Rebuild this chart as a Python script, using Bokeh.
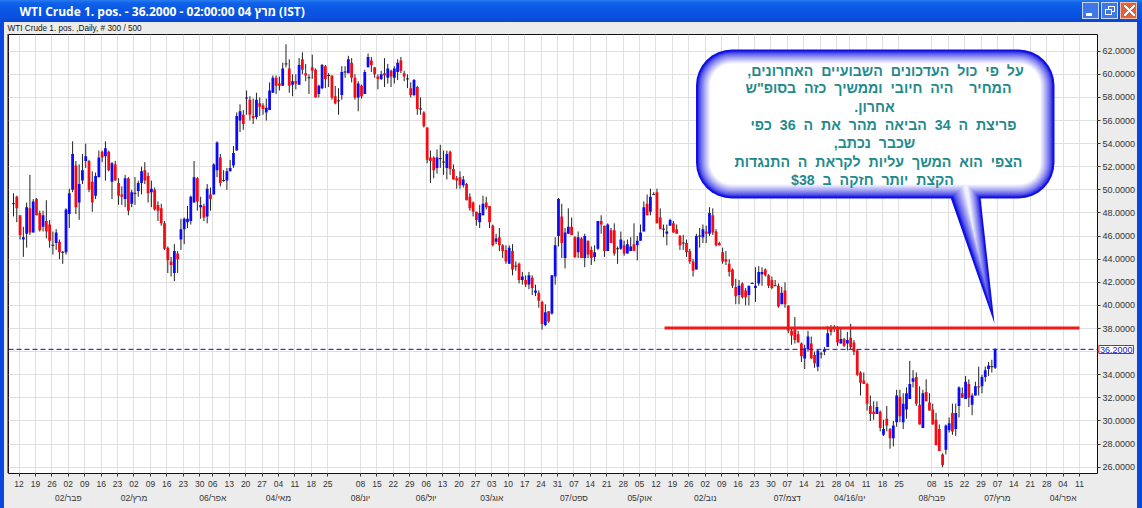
import math
from bokeh.plotting import figure
from bokeh.models import (Label, Span, LinearAxis, FixedTicker, Range1d, NumeralTickFormatter, Grid,
                          InlineStyleSheet)
from bokeh.embed import file_html
from bokeh.resources import INLINE

highs = [
 49.7,49.5,47.8,46.8,48.9,51.3,49.2,49.3,48.2,48.2, 49.1,47.4,46.4,46.6,45.7,44.7,48.4,50.1,54.2,52.5,
 52.2,53.1,54.0,52.6,51.6,51.5,53.4,53.4,54.2,53.4, 52.4,52.5,51.0,50.3,51.3,51.1,50.0,51.1,50.8,52.0,
 52.4,51.5,50.8,50.2,49.0,48.8,47.3,45.1,44.2,45.3, 44.7,47.5,47.6,48.6,49.5,52.5,51.1,49.4,48.8,50.5,
 50.2,52.3,54.2,53.1,51.7,51.9,52.6,53.8,56.7,57.4, 56.9,58.6,58.1,57.9,58.4,58.0,57.5,57.9,59.3,59.9,
 59.9,59.8,61.0,62.6,61.3,60.0,60.0,61.4,61.9,60.9, 60.0,61.7,60.5,59.1,60.9,60.8,60.1,59.9,59.0,58.8,
 60.7,60.7,61.6,61.4,60.0,59.4,59.1,60.4,61.8,61.5, 60.6,60.0,60.3,61.4,60.9,60.4,60.7,61.3,61.5,60.3,
 60.0,59.3,59.6,59.0,58.0,56.8,55.4,53.4,52.9,53.5, 53.9,53.4,53.4,53.4,52.2,51.2,51.6,51.2,50.6,49.7,
 49.0,48.1,48.7,49.5,49.4,48.6,47.0,46.2,46.7,45.3, 45.2,45.2,45.3,43.8,43.7,42.9,42.6,42.9,42.6,41.8,
 41.3,40.4,40.1,39.5,42.6,45.9,49.3,48.8,46.7,48.4, 47.6,46.0,46.4,45.9,46.2,45.6,45.1,45.2,47.3,47.8,
 46.9,47.1,46.7,47.1,45.1,46.4,45.6,45.7,45.9,47.1, 46.0,47.0,49.0,49.6,50.1,49.8,50.1,48.4,47.0,47.0,
 47.5,47.3,47.0,46.1,46.1,45.7,44.9,44.0,46.2,46.7, 47.0,46.9,48.5,48.4,46.6,45.5,45.0,44.7,44.0,43.2,
 42.3,42.2,42.0,41.5,41.7,42.0,43.3,43.4,43.3,43.2, 42.7,42.5,42.2,41.9,41.6,42.0,40.0,38.1,39.0,37.8,
 36.8,36.6,37.8,37.3,36.0,36.2,36.0,36.4,38.2,38.3, 38.3,38.2,38.1,37.2,37.7,38.4,37.0,36.2,34.3,34.2,
 33.3,32.2,31.7,31.7,30.9,30.1,31.3,29.4,30.0,32.7, 32.7,32.4,32.9,35.2,34.4,34.2,33.0,32.7,33.6,32.4,
 31.5,30.7,29.7,27.2,29.7,30.3,31.5,31.5,33.0,32.9, 33.9,33.6,32.4,33.4,34.7,34.0,34.7,35.1,35.3,36.3,
]
lows = [
 47.7,47.2,45.7,44.2,45.0,46.1,46.3,47.8,46.4,46.4, 45.8,45.0,44.4,44.8,44.0,43.6,44.4,46.7,49.8,47.9,
 47.4,50.5,51.9,49.8,48.1,49.2,51.1,52.4,50.8,51.6, 49.2,50.8,48.7,48.7,48.5,47.8,48.5,48.7,49.4,49.6,
 50.5,48.9,48.5,48.2,47.3,46.9,44.8,42.8,42.5,42.1, 42.8,44.8,45.3,46.7,47.0,48.9,48.2,47.5,47.3,47.1,
 48.2,49.6,51.1,50.3,50.7,50.0,51.6,51.9,53.4,55.0, 55.2,56.5,56.0,55.7,56.1,56.4,56.5,56.0,56.9,58.4,
 58.3,58.6,59.0,60.6,58.4,58.1,58.7,59.1,60.0,59.4, 58.3,59.6,58.0,58.0,58.7,58.8,58.9,57.8,57.4,56.5,
 57.8,59.7,60.1,59.3,57.8,56.8,57.9,58.3,60.6,60.2, 59.7,58.7,59.5,58.9,59.2,58.9,59.2,59.5,60.1,59.4,
 58.8,58.0,58.1,56.5,56.5,55.4,52.3,50.6,51.0,51.4, 51.9,51.3,50.9,51.3,50.9,50.1,50.1,50.2,49.1,48.2,
 47.7,46.9,46.7,47.8,48.3,46.7,45.1,45.3,44.7,44.1, 43.6,43.6,42.6,43.0,41.9,41.8,41.6,41.4,40.9,40.8,
 39.8,37.9,38.2,38.5,39.2,41.8,45.1,44.1,43.2,46.2, 46.1,44.1,44.1,44.1,43.3,44.1,43.5,43.8,44.8,46.2,
 44.2,44.7,45.4,44.3,43.6,44.8,44.3,44.5,44.7,44.7, 43.9,45.6,46.4,47.8,47.8,49.6,47.1,46.6,45.9,45.2,
 46.9,46.3,46.2,44.8,44.8,44.2,43.6,42.5,43.1,45.0, 45.4,45.4,46.0,46.1,45.1,45.2,43.6,43.5,42.5,41.5,
 40.1,40.1,40.6,40.0,40.0,41.9,40.3,41.7,41.7,42.5, 41.5,41.4,41.7,39.8,40.1,39.8,37.6,36.6,36.7,36.8,
 35.1,34.5,36.0,35.4,34.6,34.3,35.4,35.7,36.4,37.4, 37.7,36.5,36.7,36.4,36.1,36.2,35.7,33.9,32.2,33.2,
 30.9,30.0,30.1,30.6,29.1,28.7,29.1,27.6,27.8,29.5, 29.9,29.3,30.2,31.9,32.9,31.3,29.7,29.4,31.7,30.9,
 29.7,27.9,27.4,26.0,27.1,29.0,28.8,28.7,30.3,32.0, 31.9,31.2,30.5,32.2,32.2,32.4,33.4,33.9,34.2,34.5,
]
opens = [
 48.8,49.4,47.8,45.7,46.2,48.4,46.3,49.2,48.0,46.8, 47.3,47.0,45.2,45.4,45.5,44.6,44.6,47.9,50.0,52.1,
 48.9,50.8,52.5,52.5,50.7,49.5,51.1,53.3,52.9,53.3, 50.7,52.2,50.6,49.6,49.2,51.0,48.8,49.7,49.9,50.6,
 51.7,51.2,49.8,50.0,48.7,48.4,47.1,45.0,43.8,42.8, 44.5,45.7,46.6,47.2,47.3,48.9,51.0,48.5,48.6,47.7,
 49.6,49.6,51.7,52.8,50.8,50.8,51.6,52.1,53.4,56.0, 56.5,57.9,57.8,56.4,56.3,57.5,57.3,56.7,56.9,58.4,
 59.7,59.2,59.0,60.9,60.5,59.1,59.4,59.1,61.3,60.1, 59.7,60.6,60.4,58.3,58.8,60.7,59.9,59.9,58.1,57.7,
 58.2,60.2,60.1,61.0,59.7,58.0,59.0,58.3,60.6,61.2, 60.6,59.8,59.6,60.1,59.7,60.3,59.7,60.2,61.2,60.1,
 59.6,58.8,58.2,58.9,57.0,56.7,55.4,52.8,52.8,51.9, 52.7,52.4,51.9,53.3,51.8,51.0,51.1,50.4,50.5,49.4,
 48.9,48.1,47.2,47.8,48.9,48.6,46.9,45.5,45.9,45.2, 44.8,43.6,44.7,43.4,43.6,42.2,42.2,41.8,42.4,41.1,
 41.1,40.3,38.3,39.5,39.3,42.5,46.0,47.7,44.1,46.2, 46.8,45.9,44.6,45.8,44.1,45.6,44.8,44.2,44.9,47.3,
 46.9,44.7,46.5,46.5,44.9,44.9,45.2,44.5,44.7,45.3, 45.2,45.6,46.4,48.8,48.1,49.6,49.8,47.6,46.6,46.2,
 46.9,47.1,46.6,46.0,45.4,45.4,44.7,43.8,43.1,46.0, 45.9,46.4,46.2,47.8,46.4,45.4,44.6,44.0,43.6,43.1,
 41.6,40.9,41.9,41.3,40.9,41.9,41.5,41.9,42.7,43.1, 42.6,42.2,41.7,41.7,40.1,41.3,40.0,37.8,38.1,37.5,
 36.7,35.4,36.2,36.7,35.7,34.7,35.8,36.0,36.4,38.1, 38.1,38.1,36.7,37.1,36.7,37.2,36.8,36.1,34.2,33.5,
 33.2,31.3,30.8,30.6,30.8,28.8,30.2,29.3,28.5,29.9, 32.1,29.9,31.0,31.9,33.4,33.8,31.4,29.4,32.5,31.6,
 31.0,30.1,29.3,27.1,27.5,29.2,30.7,29.3,31.3,32.4, 31.9,33.2,31.4,32.2,33.0,33.0,33.8,34.5,34.7,34.6,
]
closes = [
 48.8,48.4,46.1,45.9,48.5,46.3,49.0,47.8,46.5,47.8, 46.4,45.6,45.2,46.3,44.6,44.6,48.3,49.7,53.1,48.5,
 50.5,51.7,52.9,50.0,48.9,51.2,52.8,52.8,53.6,51.7, 52.3,50.8,49.5,49.4,51.0,48.2,49.8,49.7,50.6,51.6,
 50.8,49.7,50.1,48.3,48.2,47.1,44.9,43.9,43.5,44.7, 44.0,46.6,47.5,47.5,49.4,51.1,49.0,48.7,47.6,50.1,
 49.2,52.2,54.1,50.6,50.8,51.6,51.9,53.2,56.4,56.8, 55.7,58.0,56.5,56.2,57.8,57.2,57.0,57.1,58.6,59.7,
 59.0,59.0,60.5,60.9,59.0,59.4,59.2,60.8,60.4,59.9, 59.7,60.3,58.0,59.0,60.8,59.6,59.9,58.0,57.5,57.7,
 60.2,60.2,61.3,59.7,58.0,59.2,58.1,60.2,61.5,60.8, 60.0,59.6,60.0,59.9,60.5,59.8,60.5,61.0,60.3,59.8,
 59.6,58.2,59.5,57.0,57.0,55.5,52.6,52.5,51.7,52.8, 52.7,52.4,53.1,51.8,50.9,50.8,50.4,50.9,49.1,48.4,
 48.1,47.4,48.0,48.8,48.5,47.2,45.2,45.8,45.2,44.7, 43.8,45.0,43.1,43.4,42.2,42.5,41.8,42.6,41.5,41.3,
 40.4,38.4,39.4,38.6,42.6,45.2,49.2,45.4,46.3,46.8, 46.1,44.2,45.9,44.1,46.0,44.4,44.1,44.6,47.3,47.0,
 44.7,47.0,45.4,44.5,44.9,45.7,44.5,45.3,45.1,44.7, 45.6,46.3,48.5,47.8,49.4,49.6,47.1,46.6,46.6,46.4,
 47.4,46.3,46.2,45.2,45.4,44.6,43.8,43.0,46.0,46.0, 46.6,46.2,48.0,46.3,45.2,45.2,43.8,43.8,42.9,41.7,
 40.8,41.7,40.7,40.7,41.7,41.9,41.7,42.9,42.9,42.6, 41.7,41.5,41.7,39.9,41.1,40.1,37.8,37.4,37.0,36.8,
 35.6,36.3,37.3,35.4,35.0,36.1,35.8,36.2,37.6,37.7, 38.1,36.8,37.1,36.5,37.0,36.4,36.0,34.0,33.3,33.2,
 31.5,30.6,30.6,31.2,29.4,29.3,29.6,28.5,29.6,32.2, 30.4,31.5,32.4,33.2,33.7,31.5,29.7,32.4,31.7,30.9,
 29.7,27.9,27.4,26.2,29.6,29.8,29.1,30.7,32.9,32.0, 33.4,32.0,32.2,33.0,32.9,33.8,34.4,34.8,34.7,36.2,
]

week_bars = [2,7,12,17,22,27,32,37,42,47,52,57,61,66,71,76,81,86,91,96,106,111,116,121,126,131,136,141,146,
             151,156,161,166,171,176,181,186,191,196,201,206,211,216,221,226,231,236,241,246,251,255,260,265,
             270,280,285,290,295,300,305,310,315,320,325]
week_labels = ["12","19","26","02","09","16","23","02","09","16","23","30","06","13","20","27","04","11","18","25",
               "08","15","22","29","06","13","20","27","03","10","17","24","31","07","14","21","28","05","12","19",
               "26","02","09","16","23","30","07","14","21","28","04","11","18","25","08","15","22","29","07","14",
               "21","28","04","11"]
month_bars = [17,37,61,81,106,126,146,171,191,211,236,255,280,300,320]
month_labels = ["02/פבר","02/מרץ","06/אפר","04/מאי","08/יונ","06/יול","03/אוג","07/ספט","05/אוק","02/נוב",
                "07/דצמ","04/16/ינו","08/פבר","07/מרץ","04/אפר"]
price_ticks = list(range(26, 64, 2))
last_price = 36.2
resistance = 38.05
resistance_from, resistance_to = 199.3, 325.7
title_text = "WTI Crude 1. pos. - 36.2000 - 02:00:00  04 מרץ (IST)"
sub_text = "WTI Crude 1. pos. ,Daily, # 300 / 500"
note_lines = ["על פי כול העדכונים השבועיים האחרונים,",
              "המחיר   היה חיובי וממשיך כזה  בסופ\"ש",
              "אחרון.",
              "פריצת ה 34 הביאה מהר את ה 36  כפי",
              "שכבר נכתב,",
              "הצפי הוא  המשך עליות לקראת ה התנגדות",
              "הקצת יותר חזקה ב $38"]
note_x = [885, 878, 874, 883, 874, 878, 872]
note_y = [70, 87.5, 106, 124.5, 142.5, 161, 179]

W, H = 1142, 508
FL, FR, FT, FB = 8, 1097, 34, 473
sp = 3.283
x0 = 1 - (13 - FL) / sp
x1 = 1 + (FR - 13) / sp
ppu = 11.556
y0 = 26 - (FB - 466.7) / ppu
y1 = 26 + (466.7 - FT) / ppu


def layer(x, y, w, h, c):
    return (f"linear-gradient({c},{c}) {x}px {y}px / {w}px {h}px no-repeat")


chrome = [
    f"linear-gradient(45deg,transparent 42%,#fff 42%,#fff 58%,transparent 58%) 1124px 5px / 11px 11px no-repeat",
    f"linear-gradient(-45deg,transparent 42%,#fff 42%,#fff 58%,transparent 58%) 1124px 5px / 11px 11px no-repeat",
    layer(1121, 3, 15, 15, "#e2603a"), layer(1120, 2, 17, 17, "#f0c0a8"),
    layer(1106, 10, 5, 4, "#3f78e4"), layer(1105, 9, 7, 6, "#ffffff"),
    layer(1109, 7, 5, 4, "#3f78e4"), layer(1108, 6, 7, 6, "#ffffff"),
    layer(1102, 3, 15, 15, "#3f78e4"), layer(1101, 2, 17, 17, "#c8d8f8"),
    layer(1086, 13, 6, 3, "#ffffff"),
    layer(1083, 3, 15, 15, "#3f78e4"), layer(1082, 2, 17, 17, "#c8d8f8"),
    f"linear-gradient(180deg,#2a7cf0 0,#0f62e8 3px,#0a56e4 10px,#0a50e0 18px,#0a44cc 22px) 0 0 / {W}px 22px no-repeat",
    layer(0, 22, 4, H - 22, "#0a48e0"),
    layer(W - 5, 22, 5, H - 22, "#0a48e0"),
    layer(7, 34, 2, FB - 34, "#808080"),
]
pin = ":host{position:absolute !important;left:0 !important;top:0 !important;margin:0 !important;"
css_main = pin + "background:" + ",".join(chrome) + ",#ececec !important;}"
css_pin = pin + "}"

p = figure(width=W, height=H, output_backend="svg", toolbar_location=None,
           x_range=Range1d(x0, x1), y_range=Range1d(y0, y1),
           x_axis_location=None, y_axis_location=None,
           min_border_left=FL, min_border_right=W - FR, min_border_top=FT, min_border_bottom=H - FB,
           background_fill_color="white", border_fill_color=None,
           outline_line_color="#111111", outline_line_width=1,
           stylesheets=[InlineStyleSheet(css=css_main)])

FONT = "Liberation Sans"
off = 0.7
wk_pos = [b + off for b in week_bars]
mo_pos = [b + off for b in month_bars]

ax = LinearAxis(ticker=FixedTicker(ticks=wk_pos),
                major_label_overrides={pos: lab for pos, lab in zip(wk_pos, week_labels)})
ax.axis_line_color = None
ax.major_tick_line_color = "#333333"
ax.major_tick_in = 0
ax.major_tick_out = 3
ax.minor_tick_line_color = None
ax.major_label_text_font = FONT
ax.major_label_text_font_size = "8.5px"
ax.major_label_text_color = "#333333"
ax.major_label_standoff = 4
p.add_layout(ax, "below")

ax2 = LinearAxis(ticker=FixedTicker(ticks=mo_pos),
                 major_label_overrides={pos: "\u200e" + lab for pos, lab in zip(mo_pos, month_labels)})
ax2.axis_line_color = None
ax2.major_tick_line_color = None
ax2.minor_tick_line_color = None
ax2.major_tick_in = 0
ax2.major_tick_out = 0
ax2.major_label_text_font = FONT
ax2.major_label_text_font_size = "8.5px"
ax2.major_label_text_color = "#333333"
ax2.major_label_standoff = 3
p.add_layout(ax2, "below")

yax = LinearAxis(ticker=FixedTicker(ticks=price_ticks), formatter=NumeralTickFormatter(format="0.0000"),
                 major_label_overrides={36: ""})
yax.axis_line_color = None
yax.major_tick_line_color = "#333333"
yax.major_tick_in = 0
yax.major_tick_out = 3
yax.minor_tick_line_color = None
yax.major_label_text_font = FONT
yax.major_label_text_font_size = "9px"
yax.major_label_text_color = "#333333"
yax.major_label_standoff = 2
p.add_layout(yax, "right")

p.xgrid.visible = False
p.ygrid.visible = False
p.add_layout(Grid(dimension=0, ticker=FixedTicker(ticks=wk_pos), grid_line_color="#e0e0e0", grid_line_width=1))
p.add_layout(Grid(dimension=1, ticker=FixedTicker(ticks=price_ticks), grid_line_color="#e0e0e0", grid_line_width=1))

idx = list(range(1, len(closes) + 1))
p.segment(idx, lows, idx, highs, color="#222222", line_width=1)
up = [i for i in range(len(closes)) if closes[i] > opens[i]]
dn = [i for i in range(len(closes)) if closes[i] < opens[i]]
dj = [i for i in range(len(closes)) if closes[i] == opens[i]]
p.vbar([idx[i] for i in up], 0.85, [opens[i] for i in up], [closes[i] for i in up],
       fill_color="#0c0cf4", line_color=None)
p.vbar([idx[i] for i in dn], 0.85, [closes[i] for i in dn], [opens[i] for i in dn],
       fill_color="#f40c14", line_color=None)
p.segment([idx[i] - 0.45 for i in dj], [closes[i] for i in dj], [idx[i] + 0.45 for i in dj], [closes[i] for i in dj],
          color="#222222", line_width=1)

p.add_layout(Span(location=last_price, dimension="width", line_color="#0a0af0", line_width=1, line_dash="5 3"))
p.segment([resistance_from], [resistance], [resistance_to], [resistance], color="#f01818", line_width=3)


def dx(px):
    return x0 + (px - FL) / sp


def dy(py):
    return 26 + (466.7 - py) / ppu


def patch_px(xs, ys, color):
    p.patch([dx(v) for v in xs], [dy(v) for v in ys], fill_color=color, line_color=None)


def rounded(x_a, y_a, x_b, y_b, r):
    xs, ys = [], []
    for cx, cy, a0 in ((x_b - r, y_a + r, -90), (x_b - r, y_b - r, 0), (x_a + r, y_b - r, 90), (x_a + r, y_a + r, 180)):
        for s in range(9):
            a = math.radians(a0 + s * 90 / 8)
            xs.append(cx + r * math.cos(a))
            ys.append(cy + r * math.sin(a))
    return xs, ys


def mix(c1, c2, t):
    return "#%02x%02x%02x" % tuple(int(round(a + (b - a) * t)) for a, b in zip(c1, c2))


# callout
edge = (16, 16, 225)
inner = (255, 255, 255)
N = 15
for k in range(N):
    t = 0 if k < 2 else ((k - 1) / (N - 2)) ** 0.75
    c = mix(edge, inner, t)
    xs_, ys_ = rounded(695.5 + k, 49 + k, 1054 - k, 198 - k, max(36 - k, 6))
    patch_px(xs_, ys_, c)
    if k < 14:
        top = 198 - k - 1
        patch_px([950 + k, 994 - k * 1.6, 980 - k], [top, 323 - k * 7, top], c)

# transparent layer over the whole window, which carries the texts
q = figure(width=W, height=H, output_backend="svg", toolbar_location=None,
           x_range=Range1d(0, W), y_range=Range1d(H, 0),
           x_axis_location=None, y_axis_location=None,
           min_border=0, background_fill_color=None, border_fill_color=None, outline_line_color=None,
           stylesheets=[InlineStyleSheet(css=css_pin)])
q.xgrid.visible = False
q.ygrid.visible = False


def label(x_, y_, text, **kw):
    q.add_layout(Label(x=x_, y=y_, text=text, **kw))


label(1115.7, 349, "36.2000", text_font=FONT, text_font_size="9px", text_color="#1a1acc",
      text_align="center", text_baseline="middle", background_fill_color="#ffffff",
      border_line_color="#d01818", border_line_width=1, padding=1)

for t_, nx, ny in zip(note_lines, note_x, note_y):
    label(nx, ny, "\u200f" + t_.replace("  ", " ").replace(" ", "\u00a0 ") + "\u200f",
          text_font=FONT, text_font_style="bold", text_font_size="14.2px", text_color="#1f8a8c",
          text_align="center", text_baseline="middle")

label(19, 11, title_text, text_font="Open Sans", text_font_style="bold", text_font_size="12px",
      text_color="#ffffff", text_align="left", text_baseline="middle")
label(7, 28, sub_text, text_font=FONT, text_font_size="8.2px", text_color="#111111",
      text_align="left", text_baseline="middle")

open("out.html", "w").write(file_html([p, q], INLINE))
